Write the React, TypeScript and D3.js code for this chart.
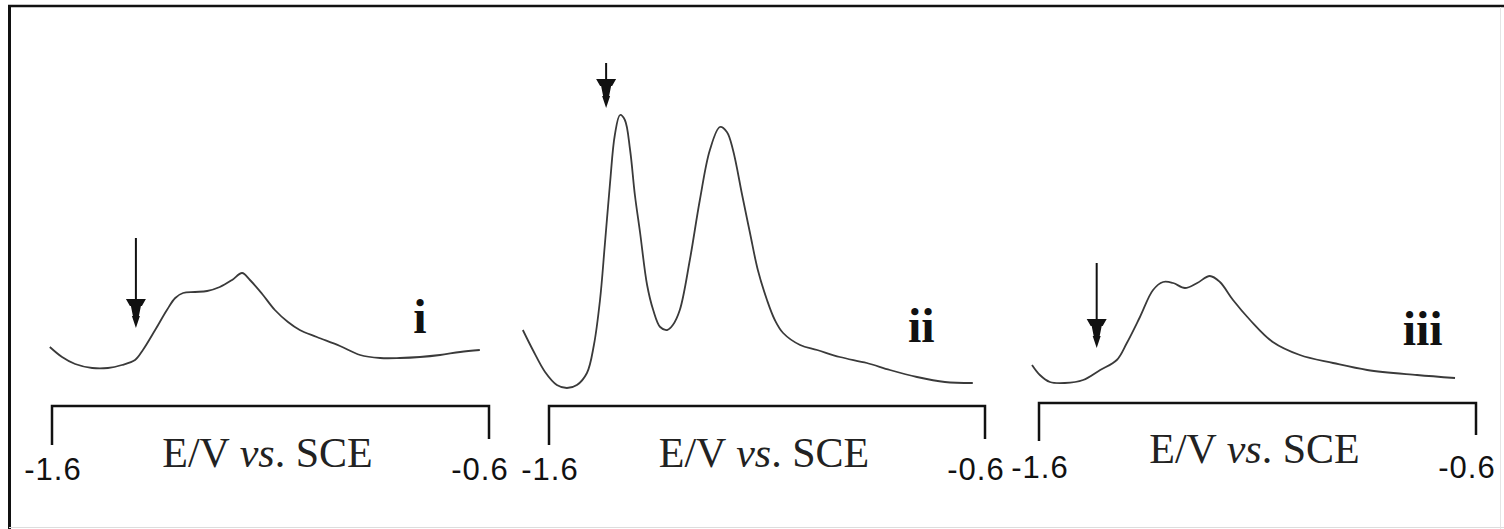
// @ts-nocheck
import { useRef, useEffect } from "react";
import * as d3 from "d3";

// potentials (V vs. SCE) and currents (arb. units)
const potentialsI = [-1.605, -1.577, -1.547, -1.508, -1.472, -1.44, -1.41, -1.392, -1.364, -1.337, -1.318, -1.3, -1.273, -1.245, -1.216, -1.188, -1.165, -1.147, -1.119, -1.09, -1.06, -1.033, -0.994, -0.941, -0.895, -0.849, -0.804, -0.758, -0.712, -0.666, -0.621];
const currentsI = [4.8, 3.8, 3.1, 2.7, 2.7, 3.0, 3.5, 4.5, 6.5, 8.5, 9.7, 10.2, 10.3, 10.4, 10.8, 11.5, 12.2, 11.5, 10.1, 8.5, 7.3, 6.5, 5.8, 4.9, 4.0, 3.7, 3.7, 3.8, 4.0, 4.3, 4.5];

const potentialsII = [-1.66, -1.637, -1.609, -1.582, -1.559, -1.536, -1.513, -1.497, -1.483, -1.472, -1.46, -1.449, -1.437, -1.426, -1.414, -1.403, -1.391, -1.375, -1.361, -1.345, -1.329, -1.316, -1.3, -1.277, -1.254, -1.231, -1.208, -1.192, -1.178, -1.157, -1.139, -1.121, -1.1, -1.082, -1.063, -1.024, -0.985, -0.933, -0.871, -0.818, -0.756, -0.692, -0.628];
const currentsII = [6.5, 4.5, 2.3, 1.0, 0.7, 1.0, 2.2, 5.0, 9.5, 15.0, 21.2, 26.0, 28.0, 27.5, 24.5, 20.0, 16.2, 11.0, 8.5, 6.8, 6.5, 7.0, 8.5, 13.5, 19.5, 24.5, 26.8, 26.3, 24.5, 20.0, 16.2, 12.5, 9.5, 7.5, 6.2, 5.0, 4.5, 3.8, 3.2, 2.5, 1.8, 1.3, 1.2];

const potentialsIII = [-1.616, -1.598, -1.575, -1.541, -1.499, -1.46, -1.422, -1.399, -1.369, -1.339, -1.316, -1.293, -1.266, -1.238, -1.209, -1.186, -1.156, -1.117, -1.065, -1.003, -0.927, -0.849, -0.735, -0.648];
const currentsIII = [3.0, 2.0, 1.3, 1.2, 1.5, 2.5, 3.5, 5.2, 7.8, 10.5, 11.3, 11.2, 10.7, 11.2, 11.9, 11.3, 9.5, 7.5, 5.3, 4.0, 3.2, 2.5, 2.0, 1.7];

// arrow markers: [potential, current at tail, current at tip]
const arrows = [
  [-1.408, 15.7, 6.7],
  [-1.469, 33.2, 28.7],
  [-1.468, 13.2, 4.7],
];

// roman numeral labels: [text, potential, current]
const labels = [
  ["i", -0.758, 6.2],
  ["ii", -0.746, 5.3],
  ["iii", -0.722, 5.0],
];

const axisTicks = ["-1.6", "-0.6"];
const axisDomain = [-1.6, -0.6];

const W = 1504;
const H = 529;

const panels = [
  { E: potentialsI, I: currentsI, x0: 52, x1: 489, by: 406, tickY: 480, titleY: 467 },
  { E: potentialsII, I: currentsII, x0: 549, x1: 985, by: 406, tickY: 480, titleY: 467 },
  { E: potentialsIII, I: currentsIII, x0: 1039, x1: 1476, by: 403, tickY: 478, titleY: 463 },
];

const App = () => {
  const svgRef = useRef();

  useEffect(() => {
    const svg = d3.select(svgRef.current);
    svg.selectAll("*").remove();

    svg.append("rect").attr("width", W).attr("height", H).attr("fill", "#fff");

    // frame
    svg.append("line").attr("x1", 8).attr("x2", W).attr("y1", 6).attr("y2", 6)
      .attr("stroke", "#111").attr("stroke-width", 2.5);
    svg.append("line").attr("x1", 9.5).attr("x2", 9.5).attr("y1", 5).attr("y2", H)
      .attr("stroke", "#111").attr("stroke-width", 3);
    svg.append("line").attr("x1", 9).attr("x2", W).attr("y1", 527.5).attr("y2", 527.5)
      .attr("stroke", "#ddd").attr("stroke-width", 1);
    svg.append("line").attr("x1", 1500.5).attr("x2", 1500.5).attr("y1", 7).attr("y2", H)
      .attr("stroke", "#e4e4e4").attr("stroke-width", 1);

    const y = d3.scaleLinear().domain([0, 30]).range([395, 95]);

    panels.forEach((p, i) => {
      const x = d3.scaleLinear().domain(axisDomain).range([p.x0, p.x1]);
      const g = svg.append("g");

      // bracket-style axis
      const [a, b] = x.range();
      g.append("path")
        .attr("d", `M${a},${p.by + 39 - (i === 2 ? 1 : 0)}V${p.by}H${b}V${p.by + 33 - (i === 2 ? 1 : 0)}`)
        .attr("fill", "none")
        .attr("stroke", "#111")
        .attr("stroke-width", 2.5);

      g.selectAll(".tick")
        .data(axisTicks)
        .enter()
        .append("text")
        .attr("x", (d) => x(+d) + (+d === axisDomain[1] ? -9 : 1))
        .attr("y", p.tickY)
        .attr("text-anchor", "middle")
        .attr("font-family", "Liberation Sans, Arial, sans-serif")
        .attr("font-size", 31)
        .attr("letter-spacing", 1)
        .attr("fill", "#111")
        .text((d) => d);

      const title = g.append("text")
        .attr("x", (a + b) / 2 - 3)
        .attr("y", p.titleY)
        .attr("text-anchor", "middle")
        .attr("font-family", "Liberation Serif, Times New Roman, serif")
        .attr("font-size", 42)
        .attr("fill", "#222");
      title.append("tspan").text("E/V ");
      title.append("tspan").attr("font-style", "italic").text("vs");
      title.append("tspan").text(". SCE");

      // voltammogram
      const line = d3.line()
        .x((d) => x(d[0]))
        .y((d) => y(d[1]))
        .curve(d3.curveCatmullRom.alpha(0.5));
      g.append("path")
        .datum(p.E.map((e, k) => [e, p.I[k]]))
        .attr("d", line)
        .attr("fill", "none")
        .attr("stroke", "#3a3a3a")
        .attr("stroke-width", 1.8);

      // arrow
      const [ae, at, ah] = arrows[i];
      const ax = x(ae);
      const tip = y(ah);
      g.append("line")
        .attr("x1", ax).attr("x2", ax)
        .attr("y1", y(at)).attr("y2", tip - 20)
        .attr("stroke", "#111").attr("stroke-width", 2);
      g.append("path")
        .attr("transform", `translate(${ax},${tip})`)
        .attr("d", "M-10,-29L10,-29L6,-22L5,-22L3,-12L4,-12L0,0L-4,-12L-3,-12L-5,-22L-6,-22Z")
        .attr("fill", "#111");

      // label
      const [lt, le, li] = labels[i];
      g.append("text")
        .attr("x", x(le))
        .attr("y", y(li))
        .attr("text-anchor", "middle")
        .attr("font-family", "Liberation Serif, Times New Roman, serif")
        .attr("font-weight", "bold")
        .attr("font-size", 48)
        .attr("fill", "#111")
        .text(lt);
    });
  }, []);

  return (
    <svg
      ref={svgRef}
      width={W}
      height={H}
      style={{ position: "absolute", left: 0, top: 0, display: "block" }}
    ></svg>
  );
};

export default App;
